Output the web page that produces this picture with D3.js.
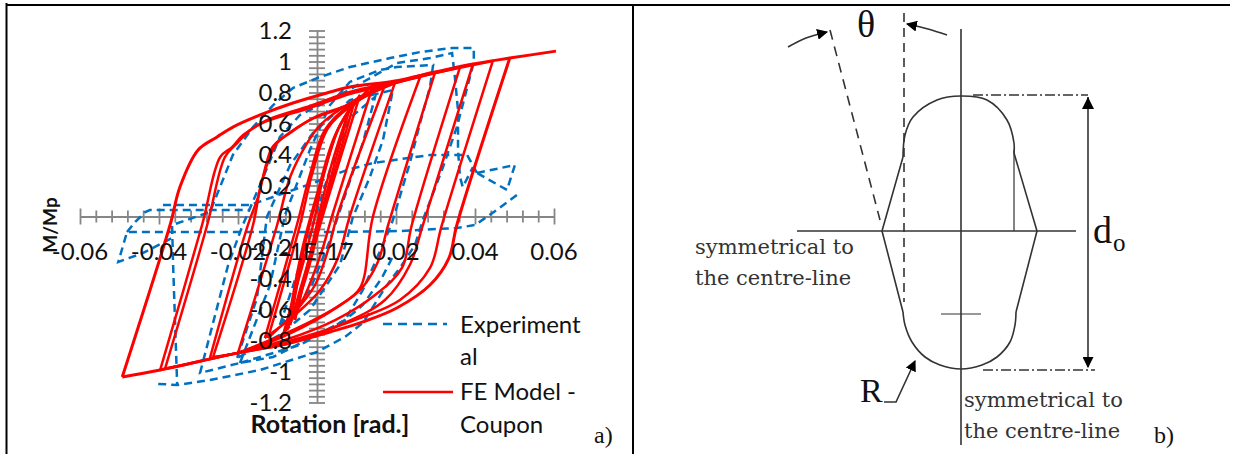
<!DOCTYPE html>
<html>
<head>
<meta charset="utf-8">
<script src="https://cdn.jsdelivr.net/npm/d3@7"></script>
<style>
  html, body { margin: 0; background: #fff; }
  text { fill: #111; }
  .tick-label, .legend-label { font-family: Lato, "Open Sans", sans-serif; font-size: 24px; }
  .axis-title { font-family: Lato, "Open Sans", sans-serif; font-size: 25px; font-weight: bold; }
  .serif { font-family: "Liberation Serif", serif; }
  .note { font-family: "DejaVu Serif", serif; font-size: 21px; fill: #333; }
</style>
</head>
<body>
<svg id="chart" width="1235" height="454"></svg>
<script>
const xTicks = [-0.06, -0.04, -0.02, 0, 0.02, 0.04, 0.06];
const xTickLabels = ['-0.06', '-0.04', '-0.02', '-1E-17', '0.02', '0.04', '0.06'];
const yTicks = [1.2, 1, 0.8, 0.6, 0.4, 0.2, 0, -0.2, -0.4, -0.6, -0.8, -1, -1.2];
const yTickLabels = ['1.2', '1', '0.8', '0.6', '0.4', '0.2', '0', '-0.2', '-0.4', '-0.6', '-0.8', '-1', '-1.2'];
const seriesNames = ['Experiment', 'al', 'FE Model -', 'Coupon'];

// experimental loops, [rotation, M/Mp]
const blueA = [[-.0402,-1.08],[-.0354,-1.087],[-.0271,-1.055],[-.0144,-.99],[0,-.874],[.0071,-.777],[.0116,-.687],[.0172,-.461],[.0215,-.313],[.0248,-.184],[.0268,-.023],[.0319,.319],[.0354,.577],[.0382,.848],[.0397,.997],[.0397,1.087],[.0342,1.087],[.0261,1.061],[.0185,1.022],[.0083,.964],[0,.893],[-.0061,.829],[-.0111,.719],[-.0162,.577],[-.0213,.397],[-.0271,.029],[-.0367,-.055],[-.0364,-.332],[-.0354,-1.087]];
const blueB = [[.019,-.268],[.0164,-.397],[.0116,-.571],[.0071,-.668],[0,-.764],[-.0111,-.906],[-.0195,-.945],[-.0296,-1.009],[-.0225,-.313],[-.019,-.068],[-.0139,.235],[-.0094,.513],[-.0043,.655],[.0058,.784],[.0202,.99],[.0286,1.022],[.0342,1.055],[.0349,.9],[.0357,.687],[.0357,.429],[.0362,.255],[.0369,.19],[.0395,.319]];
const blueC = [[.0405,.281],[.0501,.332],[.0481,.171],[.0405,.281]];
const blueD = [[.0506,.139],[.0455,.042],[.04,-.055],[.0354,-.074],[.021,-.094],[.0033,-.1],[-.022,-.1],[-.0481,-.1],[-.0503,-.293],[-.044,-.235],[-.0367,-.139]];
const blueE = [[-.0481,-.1],[-.046,-.035],[-.0435,.029],[-.0423,.042],[-.017,.042]];
const blueF = [[-.039,.074],[-.017,.074],[-.0111,.126],[-.001,.216],[.0076,.3],[.0142,.345],[.0286,.397],[.038,.397],[.0405,.281]];
const blueG = [[-.0202,-.913],[-.0152,-.526],[-.0127,-.003],[-.0068,.332],[-.001,.539],[.0083,.751],[.0192,.816],[.0167,.493],[.0134,.255],[.0091,-.003],[.0058,-.313],[-.0018,-.603],[-.0094,-.764],[-.0202,-.913]];
const blueH = [[-.0094,-.7],[-.0043,-.313],[.0033,.3],[.0083,.635],[.0147,.771],[.0116,.474],[.0078,.19],[.0033,-.152],[-.0018,-.474],[-.0094,-.7]];
const blueI = [[-.0195,-.945],[-.0119,-.442],[-.0081,.01],[-.0018,.429],[.0033,.719],[.0083,.868],[.0159,.945],[.0202,.964],[.0294,.977],[.0286,.835],[.0261,.603],[.0235,.345],[.0192,-.023],[.0172,-.152],[.0116,-.474],[.0071,-.668],[-.0043,-.829],[-.0195,-.945]];

// FE model branches, [rotation, M/Mp], split at the sharp tips
const redDownA = [[.0488,1.022],[.0354,-.055],[.0334,-.268],[.0286,-.442],[.0202,-.59],[.0116,-.68],[.0033,-.745],[-.0068,-.816],[-.02,-.88],[-.0397,-.99],[-.0493,-1.035]];
const redUpA = [[-.0493,-1.035],[-.0372,-.055],[-.0347,.19],[-.0301,.429],[-.0253,.513],[-.0213,.577],[-.0144,.655],[-.0061,.732],[.0025,.797],[.0083,.835],[.0197,.874],[.0299,.932],[.0395,.984],[.0488,1.022],[.0605,1.067]];
const redDownB = [[.0445,1.003],[.0316,-.055],[.0286,-.332],[.021,-.539],[.0109,-.655],[-.0043,-.784],[-.02,-.88],[-.0385,-.984]];
const redUpB = [[-.0385,-.984],[-.0278,-.055],[-.0233,.384],[-.0202,.474],[-.0177,.539],[-.0127,.622],[-.0018,.713],[.0083,.803],[.0197,.868],[.0299,.926],[.0445,1.003]];
const redDownC = [[.0395,.984],[.0268,-.055],[.0235,-.313],[.0172,-.539],[.0058,-.7],[-.0068,-.816],[-.02,-.88],[-.0397,-.99]];
const redUpC = [[-.0397,-.99],[-.0291,-.055],[-.0245,.384],[-.0215,.448],[-.0187,.526],[-.0132,.61],[-.0018,.7],[.0083,.79],[.0197,.861],[.0395,.984]];
const redDownD = [[.0362,.964],[.024,-.055],[.0215,-.332],[.0147,-.506],[.0046,-.668],[-.0081,-.797],[-.02,-.88],[-.0263,-.906]];
const redUpD = [[-.0263,-.906],[-.0162,-.055],[-.0139,.235],[-.0101,.474],[-.0068,.539],[-.001,.635],[.0076,.719],[.0185,.848],[.0362,.964]];
const redDownE = [[.0299,.932],[.018,-.055],[.0154,-.293],[.0109,-.474],[.002,-.635],[-.0094,-.784],[-.02,-.88],[-.0271,-.913]];
const redUpE = [[-.0271,-.913],[-.0175,-.055],[-.0149,.126],[-.0114,.442],[-.0081,.519],[-.0018,.622],[.0076,.713],[.0172,.842],[.0299,.932]];
const redDownF = [[.0261,.9],[.0142,.003],[.0109,-.461],[.0058,-.571],[-.0018,-.68],[-.0106,-.784],[-.02,-.88]];
const redUpF = [[-.02,-.88],[-.0101,-.055],[-.0068,.255],[-.0025,.474],[.0008,.59],[.0083,.732],[.0172,.848],[.0261,.9]];
const redDownG = [[.0197,.861],[.0083,.003],[.0053,-.268],[.0008,-.474],[-.0056,-.635],[-.0132,-.784]];
const redUpG = [[-.0132,-.784],[-.0051,-.055],[-.0018,.268],[.002,.558],[.0083,.719],[.0197,.861]];
const redDownH = [[.0172,.848],[.0051,.003],[.0028,-.216],[-.0005,-.442],[-.0056,-.616],[-.0124,-.784]];
const redUpH = [[-.0124,-.784],[-.0043,-.055],[-.0013,.268],[.0028,.571],[.0089,.719],[.0172,.848]];
const redDownI = [[.0142,.848],[.0038,.003],[.0013,-.216],[-.003,-.506],[-.0086,-.764]];
const redUpI = [[-.0086,-.764],[-.001,-.055],[.002,.3],[.0058,.59],[.0104,.751],[.0142,.848]];
const redDownJ = [[.0109,.784],[.0008,-.055],[-.003,-.41],[-.0076,-.732]];
const redUpJ = [[-.0076,-.732],[-.0038,-.216],[.0003,.171],[.0046,.526],[.0109,.784]];
const redDownK = [[.0096,.751],[.002,.074],[-.0043,-.474],[-.0068,-.7]];
const redUpK = [[-.0068,-.7],[-.0028,-.152],[.0013,.235],[.0053,.558],[.0096,.751]];
const redDownL = [[.0083,.7],[.0003,-.055],[-.0056,-.668]];
const redUpL = [[-.0056,-.668],[-.0018,-.248],[.0033,.3],[.0083,.7]];

const blueLoops = [blueA, blueB, blueC, blueD, blueE, blueF, blueG, blueH, blueI];
const redBranches = [redDownA, redUpA, redDownB, redUpB, redDownC, redUpC, redDownD, redUpD, redDownE, redUpE, redDownF, redUpF,
  redDownG, redUpG, redDownH, redUpH, redDownI, redUpI, redDownJ, redUpJ, redDownK, redUpK, redDownL, redUpL];

// detail b) outline, read off in page pixels
const topArc = [[903,157],[905,135],[913,117],[937,100],[961,96],[987,100],[1007,120],[1014,143],[1014,153]];
const bottomArc = [[903,312],[905,325],[912,342],[925,357],[940,365],[961,369],[982,365],[997,357],[1010,342],[1015,325],[1016,312]];
const waistLeft = [[903,157],[882,231],[903,312]];
const waistRight = [[1014,153],[1037,231],[1016,312]];

const svg = d3.select('#chart');

const x = d3.scaleLinear().domain([-0.06, 0.06]).range([80, 554]);
const y = d3.scaleLinear().domain([-1.2, 1.2]).range([402.5, 30.5]);
const line = d3.line().x(d => x(d[0])).y(d => y(d[1]));
const redLine = d3.line().curve(d3.curveCatmullRom.alpha(0.5)).x(d => x(d[0])).y(d => y(d[1]));

// table frame
const frame = svg.append('g').attr('stroke', '#000').attr('stroke-width', 2);
[[6.5, 3, 6.5, 454], [633, 5, 633, 454], [6, 5, 1230, 5]].forEach(l => {
  frame.append('line').attr('x1', l[0]).attr('y1', l[1]).attr('x2', l[2]).attr('y2', l[3]);
});

// axes
const xAxis = svg.append('g').attr('transform', 'translate(0,' + y(0) + ')')
    .call(d3.axisBottom(x).tickValues(d3.range(-15, 16).map(i => i * 0.004)).tickSize(0).tickFormat(''));
xAxis.selectAll('.tick line').attr('y1', -6).attr('y2', 6);
xAxis.selectAll('.tick').filter(d => Math.abs(Math.round(d / 0.004)) % 5 === 0).select('line').attr('y1', -8).attr('y2', 8);

const yAxis = svg.append('g').attr('transform', 'translate(' + x(0) + ',0)')
    .call(d3.axisLeft(y).tickValues(d3.range(-30, 31).map(i => i * 0.04)).tickSize(0).tickFormat(''));
yAxis.selectAll('.tick line').attr('x1', -8).attr('x2', 8);

svg.selectAll('.domain, .tick line').attr('stroke', '#868686').attr('stroke-width', 1.8);

// series
svg.append('g').selectAll('path').data(blueLoops).enter().append('path')
    .attr('d', line).attr('fill', 'none')
    .attr('stroke', '#0070c0').attr('stroke-width', 2.5).attr('stroke-dasharray', '8,5');
svg.append('g').selectAll('path').data(redBranches).enter().append('path')
    .attr('d', redLine).attr('fill', 'none')
    .attr('stroke', '#ff0000').attr('stroke-width', (d, i) => i < 2 ? 3 : 2.5).attr('stroke-linejoin', 'round');

// tick labels
svg.append('g').selectAll('text').data(xTicks).enter().append('text')
    .attr('class', 'tick-label')
    .attr('x', d => x(d)).attr('y', 260).attr('text-anchor', 'middle')
    .text((d, i) => xTickLabels[i]);
svg.append('g').selectAll('text').data(yTicks).enter().append('text')
    .attr('class', 'tick-label')
    .attr('x', 292).attr('y', d => y(d) + 8.5).attr('text-anchor', 'end')
    .text((d, i) => yTickLabels[i]);

svg.append('text').attr('class', 'axis-title').style('font-size', '19px')
    .attr('transform', 'translate(57,225) rotate(-90)').attr('text-anchor', 'middle').text('M/Mp');
svg.append('text').attr('class', 'axis-title')
    .attr('x', 330).attr('y', 433).attr('text-anchor', 'middle').text('Rotation [rad.]');

// legend
svg.append('line').attr('x1', 383).attr('x2', 447).attr('y1', 324).attr('y2', 324)
    .attr('stroke', '#0070c0').attr('stroke-width', 2.5).attr('stroke-dasharray', '9,6');
svg.append('line').attr('x1', 383).attr('x2', 453).attr('y1', 392).attr('y2', 392)
    .attr('stroke', '#ff0000').attr('stroke-width', 2.5);
svg.append('g').selectAll('text').data(seriesNames).enter().append('text')
    .attr('class', 'legend-label')
    .attr('x', 460).attr('y', (d, i) => [333, 365, 400, 433][i])
    .text(d => d);

svg.append('text').attr('class', 'serif').attr('x', 594).attr('y', 443)
    .attr('font-size', 24).text('a)');

// detail b)
const px = d3.line();
const smooth = d3.line().curve(d3.curveCatmullRom);
const ink = '#333';
const diagram = svg.append('g').attr('fill', 'none').attr('stroke', ink).attr('stroke-width', 1.6);

svg.append('defs').append('marker').attr('id', 'head')
    .attr('viewBox', '0 0 10 10').attr('refX', 9).attr('refY', 5)
    .attr('markerWidth', 11).attr('markerHeight', 11).attr('markerUnits', 'userSpaceOnUse')
    .attr('orient', 'auto')
  .append('path').attr('d', 'M0,0L10,5L0,10Z').attr('fill', '#000');

diagram.append('path').attr('d', smooth(topArc));
diagram.append('path').attr('d', smooth(bottomArc));
diagram.append('path').attr('d', px(waistLeft));
diagram.append('path').attr('d', px(waistRight));
diagram.append('path').attr('d', px([[961, 29], [961, 445]]));
diagram.append('path').attr('d', px([[797, 231], [1076, 231]]));
diagram.append('path').attr('d', px([[1014, 150], [1014, 231]])).attr('stroke-width', 1.2);
diagram.append('path').attr('d', px([[941, 314], [981, 314]])).attr('stroke-width', 1.2);
diagram.append('path').attr('d', px([[904, 13], [904, 302]])).attr('stroke-dasharray', '9,6');
diagram.append('path').attr('d', px([[830, 30], [880, 220]])).attr('stroke-dasharray', '10,7');
diagram.append('path').attr('d', px([[973, 95], [1088, 95]])).attr('stroke-dasharray', '10,3,2,3');
diagram.append('path').attr('d', px([[983, 370], [1095, 370]])).attr('stroke-dasharray', '10,3,2,3');
diagram.append('path').attr('d', px([[1088, 97], [1088, 367]])).attr('marker-end', 'url(#head)');
diagram.append('path').attr('d', 'M1088,97l-6,12h12z').attr('fill', '#000').attr('stroke', 'none');
diagram.append('path').attr('d', smooth([[788, 47], [806, 38], [827, 32]])).attr('marker-end', 'url(#head)');
diagram.append('path').attr('d', smooth([[947, 35], [928, 29], [907, 24]])).attr('marker-end', 'url(#head)');
diagram.append('path').attr('d', px([[884, 402], [896, 402], [915, 361]])).attr('marker-end', 'url(#head)');

svg.append('text').attr('class', 'serif').attr('x', 857).attr('y', 37).attr('font-size', 38).text('θ');
svg.append('text').attr('class', 'serif').attr('x', 860).attr('y', 402).attr('font-size', 34).text('R');
svg.append('text').attr('class', 'serif').attr('x', 1093).attr('y', 243).attr('font-size', 38).text('d');
svg.append('text').attr('class', 'serif').attr('x', 1113).attr('y', 251).attr('font-size', 25).text('o');
svg.append('text').attr('class', 'serif').attr('x', 1154).attr('y', 443).attr('font-size', 24).text('b)');

[['symmetrical to', 695, 254], ['the centre-line', 695, 285], ['symmetrical to', 964, 407], ['the centre-line', 964, 438]].forEach(n => {
  svg.append('text').attr('class', 'note').attr('x', n[1]).attr('y', n[2]).text(n[0]);
});
</script>
</body>
</html>
